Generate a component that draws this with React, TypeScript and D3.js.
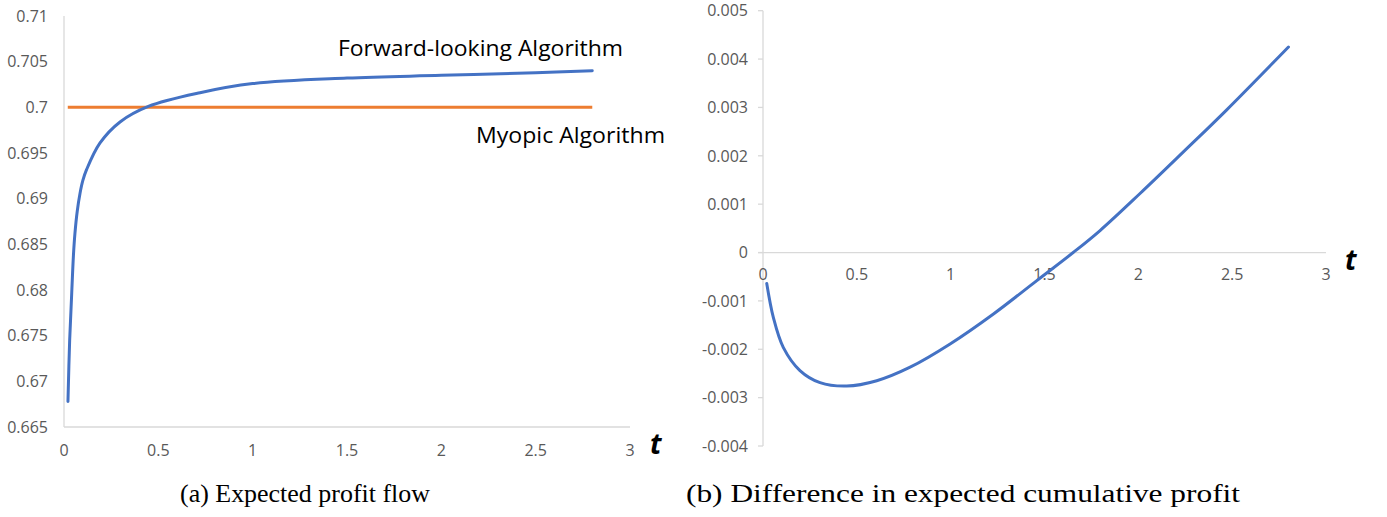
import React from "react";
import * as d3 from "d3";

// Panel (a): expected profit flow over time
const flowTimes = [0.021, 0.03, 0.041, 0.05, 0.058, 0.07, 0.085, 0.1, 0.12, 0.191, 0.297, 0.447, 0.721, 1.0, 1.5, 2.0, 2.5, 2.8];
const forwardFlow = [0.6678, 0.6745, 0.6797, 0.6838, 0.6862, 0.6886, 0.6906, 0.692, 0.6932, 0.6961, 0.6984, 0.7001, 0.7016, 0.7026, 0.7032, 0.7035, 0.7038, 0.704];
const myopicTimes = [0.02, 2.8];
const myopicFlow = [0.7, 0.7];

const flowYTicks = [0.665, 0.67, 0.675, 0.68, 0.685, 0.69, 0.695, 0.7, 0.705, 0.71];
const flowYLabels = ["0.665", "0.67", "0.675", "0.68", "0.685", "0.69", "0.695", "0.7", "0.705", "0.71"];
const timeTicks = [0, 0.5, 1, 1.5, 2, 2.5, 3];
const timeLabels = ["0", "0.5", "1", "1.5", "2", "2.5", "3"];

// Panel (b): difference in expected cumulative profit
const cumTimes = [0.02, 0.055, 0.108, 0.197, 0.304, 0.446, 0.606, 0.784, 0.997, 1.228, 1.459, 1.653, 1.796, 2.009, 2.24, 2.471, 2.8];
const cumDiff = [-0.00064, -0.00134, -0.00196, -0.00244, -0.00269, -0.00276, -0.00265, -0.00237, -0.00189, -0.00127, -0.00058, 0.0, 0.000455, 0.00122, 0.00208, 0.00295, 0.00425];

const diffYTicks = [-0.004, -0.003, -0.002, -0.001, 0, 0.001, 0.002, 0.003, 0.004, 0.005];
const diffYLabels = ["-0.004", "-0.003", "-0.002", "-0.001", "0", "0.001", "0.002", "0.003", "0.004", "0.005"];

const BLUE = "#4472C4";
const ORANGE = "#ED7D31";
const AXIS = "#d9d9d9";
const TICK_TEXT = "#595959";
const SANS = "'Open Sans', 'Noto Sans', sans-serif";
const SERIF = "'Liberation Serif', 'DejaVu Serif', serif";
const TICK_SIZE = 16;

export default function App() {
  const W = 1387;
  const H = 517;

  // scales for panel (a)
  const xa = d3.scaleLinear().domain([0, 3]).range([64, 630]);
  const ya = d3.scaleLinear().domain([0.665, 0.71]).range([427, 16]);
  // scales for panel (b)
  const xb = d3.scaleLinear().domain([0, 3]).range([763, 1326]);
  const yb = d3.scaleLinear().domain([-0.004, 0.005]).range([446, 10.7]);

  const lineA = d3
    .line<number>()
    .x((_, i) => xa(flowTimes[i]))
    .y((d) => ya(d))
    .curve(d3.curveCatmullRom.alpha(0.5));
  const lineMyopic = d3
    .line<number>()
    .x((_, i) => xa(myopicTimes[i]))
    .y((d) => ya(d));
  const lineB = d3
    .line<number>()
    .x((_, i) => xb(cumTimes[i]))
    .y((d) => yb(d))
    .curve(d3.curveCatmullRom.alpha(0.5));

  return (
    <div style={{ position: "absolute", left: 0, top: 0 }}>
      <svg width={W} height={H} style={{ display: "block", background: "#fff" }}>
        {/* ---------- panel (a) ---------- */}
        <line x1={xa(0)} x2={xa(0)} y1={ya(0.71)} y2={ya(0.665)} stroke={AXIS} strokeWidth={1.3} />
        <line x1={xa(0)} x2={xa(3)} y1={ya(0.665)} y2={ya(0.665)} stroke={AXIS} strokeWidth={1.3} />
        {flowYTicks.map((v, i) => (
          <text key={"ya" + i} x={48} y={ya(v)} dy="0.36em" textAnchor="end" fontFamily={SANS} fontSize={TICK_SIZE} fill={TICK_TEXT}>
            {flowYLabels[i]}
          </text>
        ))}
        {timeTicks.map((v, i) => (
          <text key={"xa" + i} x={xa(v)} y={450} dy="0.36em" textAnchor="middle" fontFamily={SANS} fontSize={TICK_SIZE} fill={TICK_TEXT}>
            {timeLabels[i]}
          </text>
        ))}
        <path d={lineMyopic(myopicFlow) || ""} fill="none" stroke={ORANGE} strokeWidth={3} />
        <path d={lineA(forwardFlow) || ""} fill="none" stroke={BLUE} strokeWidth={3} strokeLinecap="round" />
        <text x={338} y={56} fontFamily={SANS} fontSize={21} fill="#000" textLength={285} lengthAdjust="spacingAndGlyphs">
          Forward-looking Algorithm
        </text>
        <text x={476} y={143} fontFamily={SANS} fontSize={21} fill="#000" textLength={189} lengthAdjust="spacingAndGlyphs">
          Myopic Algorithm
        </text>
        <text x={650} y={454} fontFamily={SANS} fontSize={28} fontStyle="italic" fontWeight="bold" fill="#000">
          t
        </text>
        <text x={180} y={502} fontFamily={SERIF} fontSize={26} fill="#000" textLength={250} lengthAdjust="spacingAndGlyphs">
          (a) Expected profit flow
        </text>

        {/* ---------- panel (b) ---------- */}
        <line x1={xb(0)} x2={xb(0)} y1={yb(0.005)} y2={yb(-0.004)} stroke={AXIS} strokeWidth={1.3} />
        <line x1={xb(0) - 5} x2={xb(3)} y1={yb(0)} y2={yb(0)} stroke={AXIS} strokeWidth={1.3} />
        {diffYTicks.map((v, i) => (
          <g key={"yb" + i}>
            <line x1={xb(0) - 5} x2={xb(0)} y1={yb(v)} y2={yb(v)} stroke={AXIS} strokeWidth={1.3} />
            <text x={748} y={yb(v)} dy="0.36em" textAnchor="end" fontFamily={SANS} fontSize={TICK_SIZE} fill={TICK_TEXT}>
              {diffYLabels[i]}
            </text>
          </g>
        ))}
        {timeTicks.map((v, i) => (
          <text key={"xb" + i} x={xb(v)} y={274} dy="0.36em" textAnchor="middle" fontFamily={SANS} fontSize={TICK_SIZE} fill={TICK_TEXT}>
            {timeLabels[i]}
          </text>
        ))}
        <path d={lineB(cumDiff) || ""} fill="none" stroke={BLUE} strokeWidth={3} strokeLinecap="round" />
        <text x={1345} y={270} fontFamily={SANS} fontSize={28} fontStyle="italic" fontWeight="bold" fill="#000">
          t
        </text>
        <text x={686} y={502} fontFamily={SERIF} fontSize={26} fill="#000" textLength={554} lengthAdjust="spacingAndGlyphs">
          (b) Difference in expected cumulative profit
        </text>
      </svg>
    </div>
  );
}
